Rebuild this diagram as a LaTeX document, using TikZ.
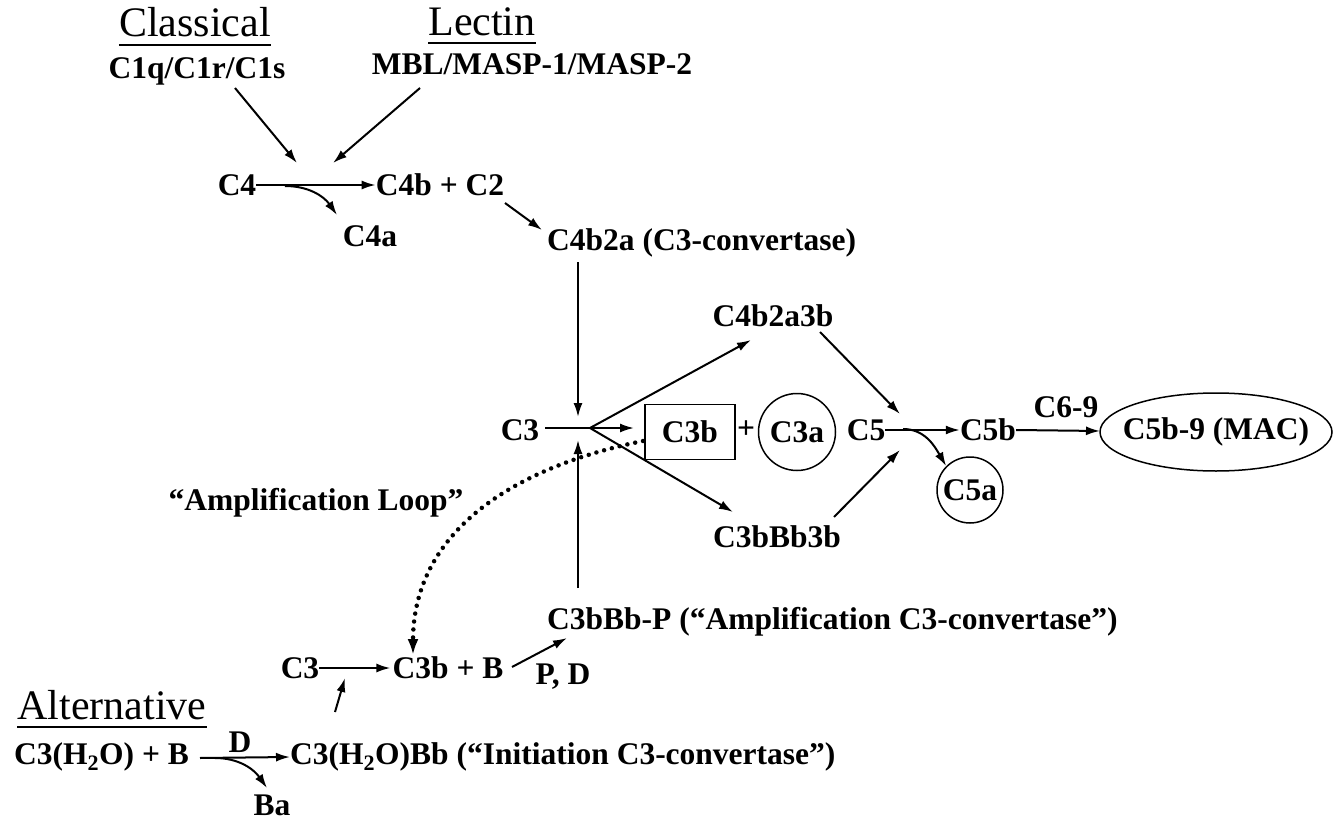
\documentclass[tikz,border=0pt]{standalone}
\usepackage{fontspec}
\setmainfont{Liberation Serif}
\usetikzlibrary{arrows.meta,shapes.geometric}
\begin{document}
\begin{tikzpicture}[x=1pt,y=-1pt,
  lbl/.style={inner sep=0pt,font=\fontsize{31.5}{31.5}\selectfont\bfseries},
  ttl/.style={inner sep=0pt,font=\fontsize{42}{42}\selectfont},
  con/.style={line width=2pt,-{Latex[length=14pt,width=9pt]}},
  plain/.style={line width=2pt},
  dots/.style={line width=4.5pt,line cap=round,dash pattern=on 0pt off 8pt,-{Latex[length=16pt,width=11pt]}}]
\useasboundingbox (0,0) rectangle (1334,832);
% titles
\node[ttl,anchor=base] (cl) at (195,37) {Classical};
\draw[plain] ([yshift=-8pt]cl.base west) -- ([yshift=-8pt]cl.base east);
\node[lbl] (c1) at (197,71) {C1q/C1r/C1s};
\node[ttl,anchor=base] (le) at (482,36) {Lectin};
\draw[plain] ([yshift=-7pt]le.base west) -- ([yshift=-7pt]le.base east);
\node[lbl] (mbl) at (532,64) {MBL/MASP-1/MASP-2};
% classical/lectin path
\node[lbl] (c4) at (237,185) {C4};
\node[lbl] (c4b) at (440,185) {C4b + C2};
\node[lbl] (c4a) at (370,236) {C4a};
\node[lbl,anchor=west] (c4b2a) at (547,243) {C4b2a (C3-convertase)};
\coordinate (t1) at (297,163);
\coordinate (t2) at (333,163);
\coordinate (f1) at (235,88);
\coordinate (f2) at (420,88);
\draw[con] (f1) -- (t1);
\draw[con] (f2) -- (t2);
\draw[con] (c4.east) -- (c4b.west);
\coordinate (s4) at (285,186);
\coordinate (e4) at (337,215);
\draw[con] (s4) to[out=0,in=125] (e4);
\coordinate (s5) at (505,203);
\coordinate (e5) at (542,230);
\draw[con] (s5) -- (e5);
% central
\node[lbl] (c3) at (520,430) {C3};
\node[lbl,draw,line width=1.5pt,minimum width=90pt,minimum height=55pt] (c3b) at (690,432) {C3b};
\node[lbl] (plus) at (746,430) {+};
\node[lbl,draw,circle,line width=1.5pt,minimum size=77pt] (c3a) at (797,432) {C3a};
\node[lbl] (c5) at (866,430) {C5};
\node[lbl] (c4b2a3b) at (773,316) {C4b2a3b};
\node[lbl] (c3bbb3b) at (777,537) {C3bBb3b};
\node[lbl] (c5b) at (988,430) {C5b};
\node[lbl] (c69) at (1066,407) {C6-9};
\node[lbl] (mac) at (1216,432) {C5b-9 (MAC)};
\draw[line width=1.5pt] (mac.center) ellipse [x radius=116, y radius=39];
\coordinate (macw) at (1100,431);
\node[lbl,draw,circle,line width=1.5pt,minimum size=66pt] (c5a) at (970,490) {C5a};
\coordinate (vtop) at (578,262);
\coordinate (vtip) at (578,417);
\draw[con] (vtop) -- (vtip);
\coordinate (hs) at (545,428);
\coordinate (he) at (634,428);
\draw[con] (hs) -- (he);
\coordinate (split) at (590,428);
\coordinate (up1) at (751,340);
\coordinate (dn1) at (733,512);
\draw[con] (split) -- (up1);
\draw[con] (split) -- (dn1);
\coordinate (a1) at (820,332);
\coordinate (a1e) at (900,414);
\draw[con] (a1) -- (a1e);
\coordinate (a2) at (834,517);
\coordinate (a2e) at (900,450);
\draw[con] (a2) -- (a2e);
\draw[con] (c5.east) -- (c5b.west);
\coordinate (s6) at (903,429);
\draw[con] (s6) to[out=0,in=120] (c5a.north west);
\draw[con] (c5b.east) -- (macw);
% amplification
\node[lbl] (loop) at (316,503) {“Amplification Loop”};
\coordinate (vbot) at (578,588);
\coordinate (vbtip) at (578,440);
\draw[con] (vbot) -- (vbtip);
\node[lbl,anchor=west] (amp) at (547,622) {C3bBb-P (“Amplification C3-convertase”)};
\node[lbl] (c3l) at (300,668) {C3};
\node[lbl] (c3bB) at (448,668) {C3b + B};
\node[lbl] (pd) at (563,677) {P, D};
\draw[con] (c3l.east) -- ([xshift=-2pt]c3bB.west);
\coordinate (s7) at (512,667);
\coordinate (e7) at (567,638);
\draw[con] (s7) -- (e7);
\coordinate (ls) at (643,441);
\coordinate (le2) at (413,655);
\draw[dots] (ls) .. controls (500,470) and (413,540) .. (le2);
% alternative
\node[ttl,anchor=base] (alt) at (112,719) {Alternative};
\draw[plain] ([yshift=-8pt]alt.base west) -- ([yshift=-8pt]alt.base east);
\node[lbl,anchor=west] (c3h) at (14,757) {C3(H\textsubscript{2}O) + B};
\node[lbl,anchor=west] (c3hbb) at (290,757) {C3(H\textsubscript{2}O)Bb (“Initiation C3-convertase”)};
\node[lbl] (d) at (240,742) {D};
\node[lbl] (ba) at (272,805) {Ba};
\coordinate (s8) at (200,758);
\draw[con] (s8) -- (c3hbb.west);
\coordinate (s9) at (215,758);
\coordinate (e9) at (267,788);
\draw[con] (s9) to[out=0,in=125] (e9);
\coordinate (s10) at (335,712);
\coordinate (e10) at (345,678);
\draw[con] (s10) -- (e10);
\end{tikzpicture}
\end{document}
